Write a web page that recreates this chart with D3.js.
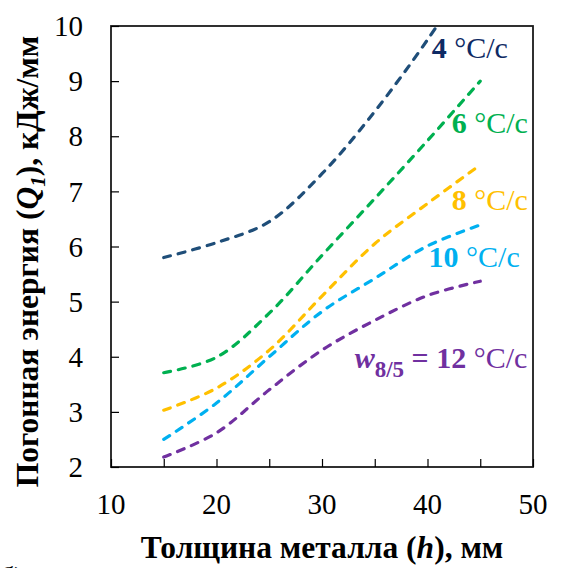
<!DOCTYPE html>
<html>
<head>
<meta charset="utf-8">
<script src="https://cdn.jsdelivr.net/npm/d3@7"></script>
<style>
  body { margin: 0; background: #fff; }
</style>
</head>
<body>
<div id="chart"></div>
<script>
// thickness of metal, mm
const thickness = [15, 20, 25, 30, 35, 40, 45];

// heat input Q1, kJ/mm for each cooling rate w8/5
const rate4 = [5.8, 6.07, 6.45, 7.32, 8.45, 9.75, 11.2];
const rate6 = [3.71, 3.99, 4.79, 5.84, 6.87, 7.92, 9.0];
const rate8 = [3.03, 3.43, 4.12, 5.1, 6.05, 6.78, 7.48];
const rate10 = [2.5, 3.16, 4.0, 4.82, 5.42, 6.01, 6.39];
const rate12 = [2.18, 2.62, 3.4, 4.12, 4.66, 5.11, 5.37];

const xTicks = [10, 20, 30, 40, 50];
const yTicks = [2, 3, 4, 5, 6, 7, 8, 9, 10];

const series = [
  { rate: 4, values: rate4, line: "#1F4E79", text: "#0E2A64", lx: 40.4, ly: 9.42 },
  { rate: 6, values: rate6, line: "#00B050", text: "#00B050", lx: 42.3, ly: 8.06 },
  { rate: 8, values: rate8, line: "#FFC000", text: "#FFC000", lx: 42.3, ly: 6.66 },
  { rate: 10, values: rate10, line: "#00B0F0", text: "#00B0F0", lx: 40.1, ly: 5.63 },
  { rate: 12, values: rate12, line: "#7030A0", text: "#7030A0", lx: 33.1, ly: 3.8 }
];

const width = 562, height = 568;
const margin = { left: 111, right: 29, top: 26, bottom: 101 };
const serif = "Liberation Serif";

const x = d3.scaleLinear().domain([10, 50]).range([margin.left, width - margin.right]);
const y = d3.scaleLinear().domain([2, 10]).range([height - margin.bottom, margin.top]);

const svg = d3.select("#chart").append("svg")
  .attr("width", width)
  .attr("height", height);

svg.append("clipPath").attr("id", "plot-clip")
  .append("rect")
  .attr("x", x(10)).attr("y", y(10))
  .attr("width", x(50) - x(10)).attr("height", y(2) - y(10));

// frame
svg.append("rect")
  .attr("x", x(10)).attr("y", y(10))
  .attr("width", x(50) - x(10)).attr("height", y(2) - y(10))
  .attr("fill", "none")
  .attr("stroke", "#1a1a1a")
  .attr("stroke-width", 1.8);

// tick marks pointing inside
const xAxis = svg.append("g")
  .attr("transform", `translate(0,${y(2)})`)
  .call(d3.axisTop(x).tickValues(d3.range(10, 51, 5)).tickSize(8).tickFormat(""));
xAxis.select(".domain").remove();
xAxis.selectAll("line").attr("stroke", "#000").attr("stroke-width", 1.2);

const yAxis = svg.append("g")
  .attr("transform", `translate(${x(10)},0)`)
  .call(d3.axisRight(y).tickValues(yTicks).tickSize(8).tickFormat(""));
yAxis.select(".domain").remove();
yAxis.selectAll("line").attr("stroke", "#000").attr("stroke-width", 1.2);

// tick labels
svg.append("g").selectAll("text")
  .data(xTicks).enter().append("text")
  .attr("x", d => x(d))
  .attr("y", y(2) + 47)
  .attr("text-anchor", "middle")
  .style("font-family", serif)
  .style("font-size", "29px")
  .text(d => d);

svg.append("g").selectAll("text")
  .data(yTicks).enter().append("text")
  .attr("x", x(10) - 28)
  .attr("y", d => y(d))
  .attr("dy", "0.35em")
  .attr("text-anchor", "end")
  .style("font-family", serif)
  .style("font-size", "29px")
  .text(d => d);

// curves
const line = d3.line()
  .x((d, i) => x(thickness[i]))
  .y(d => y(d))
  .curve(d3.curveCatmullRom.alpha(0.5));

svg.append("g").attr("clip-path", "url(#plot-clip)")
  .selectAll("path")
  .data(series).enter().append("path")
  .attr("d", d => line(d.values))
  .attr("fill", "none")
  .attr("stroke", d => d.line)
  .attr("stroke-width", 3.2)
  .attr("stroke-linecap", "round")
  .attr("stroke-dasharray", "7,8");

// series labels
series.forEach(s => {
  const t = svg.append("text")
    .attr("x", x(s.lx))
    .attr("y", y(s.ly))
    .style("font-family", serif)
    .style("font-size", "30px")
    .style("fill", s.text);
  if (s.rate === 12) {
    t.append("tspan").style("font-weight", "bold").style("font-style", "italic").text("w");
    t.append("tspan").attr("dy", 9).style("font-weight", "bold").style("font-size", "23px").text("8/5");
    t.append("tspan").attr("dy", -9).style("font-weight", "bold").text(" = " + s.rate);
  } else {
    t.append("tspan").style("font-weight", "bold").text(s.rate);
  }
  t.append("tspan").text(" °C/c");
});

// axis titles
const xTitle = svg.append("text")
  .attr("x", (x(10) + x(50)) / 2)
  .attr("y", 558)
  .attr("text-anchor", "middle")
  .style("font-family", serif)
  .style("font-size", "31.5px")
  .style("font-weight", "bold");
xTitle.append("tspan").text("Толщина металла (");
xTitle.append("tspan").style("font-style", "italic").text("h");
xTitle.append("tspan").text("), мм");

const yTitle = svg.append("text")
  .attr("transform", `translate(38,${(y(2) + y(10)) / 2 + 15}) rotate(-90)`)
  .attr("text-anchor", "middle")
  .style("font-family", serif)
  .style("font-size", "31.5px")
  .style("font-weight", "bold");
yTitle.append("tspan").text("Погонная энергия (");
yTitle.append("tspan").style("font-style", "italic").text("Q");
yTitle.append("tspan").attr("dy", 7).style("font-style", "italic").style("font-size", "21px").text("1");
yTitle.append("tspan").attr("dy", -7).text("), кДж/мм");

// panel letter, cut by the bottom edge
svg.append("text")
  .attr("x", 0)
  .attr("y", 586)
  .style("font-family", serif)
  .style("font-size", "28px")
  .text("б)");
</script>
</body>
</html>
